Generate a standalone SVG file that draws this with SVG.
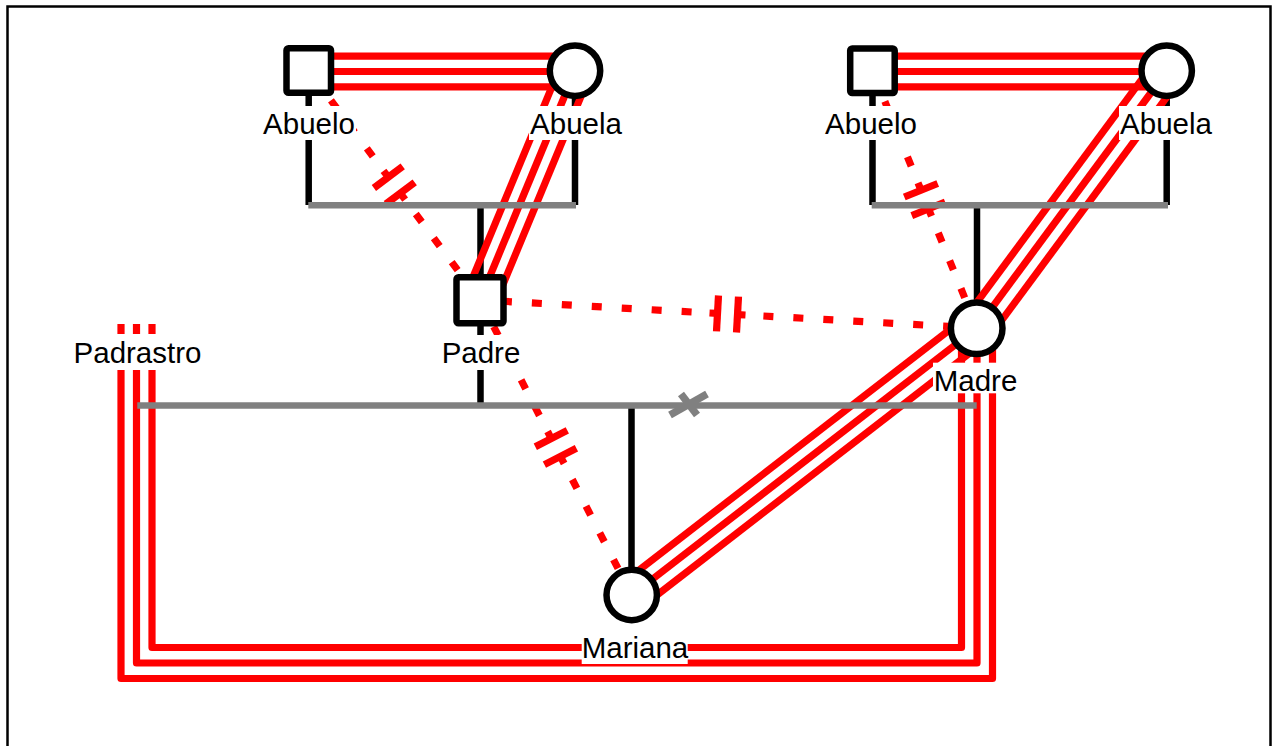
<svg xmlns="http://www.w3.org/2000/svg" width="1275" height="746" viewBox="0 0 1275 746">
<style>
.tri{stroke:#ff0000;stroke-width:7.2;fill:none;stroke-linejoin:round}
.dot{stroke:#ff0000;stroke-width:7.2;fill:none;stroke-dasharray:10 20}
.mk{stroke:#ff0000;stroke-width:7.2;fill:none}
.blk{stroke:#000;stroke-width:6.5;fill:none}
.gry{stroke:#808080;stroke-width:6.5;fill:none}
.div{stroke:#808080;stroke-width:7.5;fill:none}
.box{fill:#fff;stroke:none}
.sym{fill:#fff;stroke:#000;stroke-width:6.5}
text{font-family:"Liberation Sans",Arial,sans-serif;font-size:29.5px;fill:#000;text-anchor:middle}
</style>
<rect x="7.5" y="6.5" width="1263" height="760" fill="#fff" stroke="#000" stroke-width="2.5"/>
<g id="connectors">
  <!-- black child/parent lines -->
  <line class="blk" x1="308.7" y1="95" x2="308.7" y2="205"/>
  <line class="blk" x1="575" y1="95" x2="575" y2="205"/>
  <line class="blk" x1="872.5" y1="95" x2="872.5" y2="205"/>
  <line class="blk" x1="1166.7" y1="95" x2="1166.7" y2="205"/>
  <line class="blk" x1="480.5" y1="205" x2="480.5" y2="280"/>
  <line class="blk" x1="977" y1="205" x2="977" y2="305"/>
  <line class="blk" x1="480.5" y1="322" x2="480.5" y2="405"/>
  <line class="blk" x1="631.5" y1="405" x2="631.5" y2="570"/>
  <!-- couple lines grandparents -->
  <line class="tri" x1="308.7" y1="56.2" x2="575" y2="56.2"/>
  <line class="tri" x1="308.7" y1="71.5" x2="575" y2="71.5"/>
  <line class="tri" x1="308.7" y1="86.8" x2="575" y2="86.8"/>
  <line class="tri" x1="872.5" y1="56.2" x2="1166.7" y2="56.2"/>
  <line class="tri" x1="872.5" y1="71.5" x2="1166.7" y2="71.5"/>
  <line class="tri" x1="872.5" y1="86.8" x2="1166.7" y2="86.8"/>
  <!-- Abuela - Padre -->
  <line class="tri" x1="589.1" y1="76.9" x2="494.1" y2="305.9"/>
  <line class="tri" x1="575" y1="71" x2="480" y2="300"/>
  <line class="tri" x1="560.9" y1="65.1" x2="465.9" y2="294.1"/>
  <!-- Abuela - Madre -->
  <line class="tri" x1="1179.3" y1="80.1" x2="989.3" y2="337.1"/>
  <line class="tri" x1="1167" y1="71" x2="977" y2="328"/>
  <line class="tri" x1="1154.7" y1="61.9" x2="964.7" y2="318.9"/>
  <!-- Madre - Mariana -->
  <line class="tri" x1="986.4" y1="340.1" x2="641.4" y2="607.1"/>
  <line class="tri" x1="977" y1="328" x2="632" y2="595"/>
  <line class="tri" x1="967.6" y1="315.9" x2="622.6" y2="582.9"/>
  <!-- Padrastro - Madre -->
  <polyline class="tri" points="121,324 121,678.5 992.5,678.5 992.5,328"/>
  <polyline class="tri" points="136.5,324 136.5,663 977,663 977,328"/>
  <polyline class="tri" points="152,324 152,647.5 961.5,647.5 961.5,328"/>
  <!-- dotted cutoff lines: Abuelo1 - Padre -->
  <line class="dot" x1="372.8" y1="156.4" x2="308.7" y2="70.5"/>
  <line class="dot" x1="415.8" y1="214" x2="480" y2="300"/>
  <line class="mk" x1="383.5" y1="170.8" x2="388.3" y2="177.2"/>
  <line class="mk" x1="400.3" y1="193.2" x2="405.1" y2="199.6"/>
  <line class="mk" x1="373.9" y1="188" x2="402.7" y2="166.4"/>
  <line class="mk" x1="385.9" y1="204" x2="414.7" y2="182.4"/>
  <!-- Abuelo2 - Madre -->
  <line class="dot" x1="911.2" y1="166.2" x2="872.5" y2="71"/>
  <line class="dot" x1="938.3" y1="232.9" x2="977" y2="328"/>
  <line class="mk" x1="918" y1="182.8" x2="921" y2="190.2"/>
  <line class="mk" x1="928.5" y1="208.8" x2="931.5" y2="216.2"/>
  <line class="mk" x1="904.3" y1="197" x2="937.7" y2="183.5"/>
  <line class="mk" x1="911.8" y1="215.6" x2="945.2" y2="202"/>
  <!-- Padre - Madre -->
  <line class="dot" x1="691.6" y1="312" x2="480" y2="300"/>
  <line class="dot" x1="763.4" y1="316" x2="977" y2="328"/>
  <line class="mk" x1="709.5" y1="313" x2="717.5" y2="313.4"/>
  <line class="mk" x1="737.5" y1="314.6" x2="745.5" y2="315"/>
  <line class="mk" x1="716.5" y1="331.4" x2="718.5" y2="295.5"/>
  <line class="mk" x1="736.5" y1="332.5" x2="738.5" y2="296.6"/>
  <!-- Padre - Mariana -->
  <line class="dot" x1="539.4" y1="415.5" x2="480" y2="300"/>
  <line class="dot" x1="572.3" y1="479.5" x2="631.7" y2="595"/>
  <line class="mk" x1="547.6" y1="431.5" x2="551.3" y2="438.6"/>
  <line class="mk" x1="560.4" y1="456.4" x2="564.1" y2="463.5"/>
  <line class="mk" x1="535.3" y1="446.8" x2="567.3" y2="430.4"/>
  <line class="mk" x1="544.4" y1="464.6" x2="576.4" y2="448.2"/>
  <!-- family lines -->
  <line class="gry" x1="308.3" y1="205.3" x2="576" y2="205.3"/>
  <line class="gry" x1="871.7" y1="205.3" x2="1168" y2="205.3"/>
  <line class="gry" x1="137.3" y1="405.5" x2="976.7" y2="405.5"/>
  <line class="div" x1="670" y1="415" x2="707" y2="394"/>
  <line class="div" x1="681" y1="394" x2="697" y2="415"/>
</g>
<g id="abuelo1">
  <rect class="sym" x="286.5" y="48.3" width="44.5" height="44.5" rx="2"/>
  <rect class="box" x="262" y="106" width="94" height="34"/>
  <text x="309" y="134.3">Abuelo</text>
</g>
<g id="abuela1">
  <circle class="sym" cx="575" cy="70.7" r="25.2"/>
  <rect class="box" x="529" y="106" width="94" height="34"/>
  <text x="576" y="134.3">Abuela</text>
</g>
<g id="abuelo2">
  <rect class="sym" x="850.2" y="48.5" width="44.5" height="44.5" rx="2"/>
  <rect class="box" x="824" y="106" width="94" height="34"/>
  <text x="871" y="134.3">Abuelo</text>
</g>
<g id="abuela2">
  <circle class="sym" cx="1166.7" cy="70.7" r="25.2"/>
  <rect class="box" x="1119" y="106" width="94" height="34"/>
  <text x="1166" y="134.3">Abuela</text>
</g>
<g id="padre">
  <rect class="sym" x="456.5" y="277.3" width="47" height="46" rx="2"/>
  <rect class="box" x="440" y="335" width="82" height="35"/>
  <text x="481" y="363.3">Padre</text>
</g>
<g id="padrastro">
  <rect class="box" x="72" y="334" width="132" height="36"/>
  <text x="137.5" y="363.3">Padrastro</text>
</g>
<g id="madre">
  <circle class="sym" cx="976.7" cy="328.3" r="25.8"/>
  <rect class="box" x="933" y="362.7" width="84" height="30.6"/>
  <text x="975.5" y="391">Madre</text>
</g>
<g id="mariana">
  <circle class="sym" cx="631.7" cy="595" r="25.2"/>
  <rect class="box" x="581.7" y="631" width="106" height="33"/>
  <text x="635" y="658">Mariana</text>
</g>
</svg>
